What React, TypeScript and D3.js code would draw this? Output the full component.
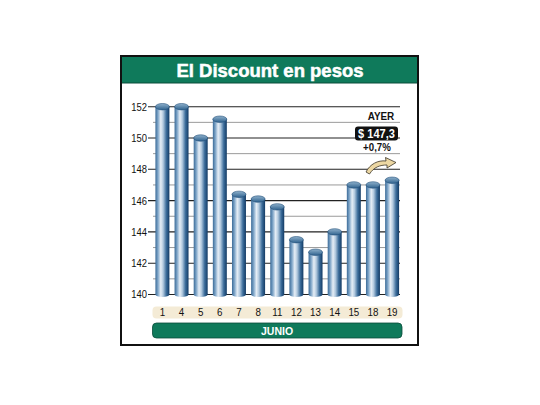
import React, { useEffect, useRef } from 'react';
import * as d3 from 'd3';

const days = ['1', '4', '5', '6', '7', '8', '11', '12', '13', '14', '15', '18', '19'];
const prices = [152.0, 152.0, 150.0, 151.2, 146.4, 146.1, 145.6, 143.5, 142.7, 144.0, 147.0, 147.0, 147.3];
const yTicks = [140, 142, 144, 146, 148, 150, 152];
const gridValues = d3.range(140, 153, 1);

const title = 'El Discount en pesos';
const monthLabel = 'JUNIO';
const lastLabel = 'AYER';
const lastValue = '$ 147,3';
const lastChange = '+0,7%';

const App: React.FC = () => {
  const svgRef = useRef<SVGSVGElement>(null);

  useEffect(() => {
    if (!svgRef.current) return;
    const svg = d3.select(svgRef.current);
    svg.selectAll('*').remove();

    const font = 'Liberation Sans, Arial, sans-serif';
    const green = '#0f7a5b';

    // squeezed text, the original uses a narrow face
    const narrow = (sel: any, sx: number) =>
      sel.attr('transform', function (this: SVGTextElement) {
        const px = +this.getAttribute('x')!;
        return `translate(${px * (1 - sx)},0) scale(${sx},1)`;
      });

    const x = d3.scaleBand<string>()
      .domain(days)
      .range([153.5, 401])
      .paddingInner(0.27)
      .paddingOuter(0.1);

    const y = d3.scaleLinear()
      .domain([140, 152])
      .range([294.5, 106.7]);

    // gradients
    const defs = svg.append('defs');
    const body = defs.append('linearGradient').attr('id', 'barBody')
      .attr('x1', '0%').attr('x2', '100%').attr('y1', '0%').attr('y2', '0%');
    [
      ['0%', '#3b6b98'],
      ['18%', '#7ea5c8'],
      ['38%', '#e6eef6'],
      ['55%', '#b3cadf'],
      ['78%', '#3c6d9b'],
      ['100%', '#123a64'],
    ].forEach(([o, c]) => body.append('stop').attr('offset', o).attr('stop-color', c));

    const cap = defs.append('linearGradient').attr('id', 'barCap')
      .attr('x1', '0%').attr('x2', '0%').attr('y1', '0%').attr('y2', '100%');
    [
      ['0%', '#8fb1cc'],
      ['100%', '#2f628e'],
    ].forEach(([o, c]) => cap.append('stop').attr('offset', o).attr('stop-color', c));

    // frame
    svg.append('rect')
      .attr('x', 121).attr('y', 56).attr('width', 297).attr('height', 289)
      .attr('fill', '#fff').attr('stroke', '#111').attr('stroke-width', 2);

    // title band
    svg.append('rect')
      .attr('x', 122).attr('y', 57).attr('width', 295).attr('height', 26)
      .attr('fill', green);
    svg.append('line')
      .attr('x1', 122).attr('x2', 417).attr('y1', 83).attr('y2', 83)
      .attr('stroke', '#0a4d3a').attr('stroke-width', 1);
    svg.append('text')
      .text(title)
      .attr('x', 270).attr('y', 77)
      .attr('text-anchor', 'middle')
      .attr('font-family', font)
      .attr('font-size', 18.5)
      .attr('font-weight', 'bold')
      .attr('stroke', '#fff')
      .attr('stroke-width', 0.5)
      .attr('fill', '#fff');

    // grid
    svg.append('g').selectAll('line')
      .data(gridValues)
      .join('line')
      .attr('x1', d => (d % 2 === 0 ? 148 : 153))
      .attr('x2', 400)
      .attr('y1', d => y(d))
      .attr('y2', d => y(d))
      .attr('stroke', d => (d % 2 === 0 ? '#222' : '#9a9a9a'))
      .attr('stroke-width', d => (d % 2 === 0 ? 1.1 : 1));

    // y labels
    narrow(svg.append('g').selectAll('text')
      .data(yTicks)
      .join('text')
      .text(d => d)
      .attr('x', 147)
      .attr('y', d => y(d) + 4)
      .attr('text-anchor', 'end')
      .attr('font-family', font)
      .attr('font-size', 11.5)
      .attr('fill', '#111'), 0.82);

    // bars
    const bw = x.bandwidth();
    const bars = svg.append('g').selectAll('g')
      .data(days.map((d, i) => ({ day: d, v: prices[i] })))
      .join('g')
      .attr('transform', d => `translate(${x(d.day)},0)`);

    bars.append('ellipse')
      .attr('cx', bw / 2).attr('cy', y(140))
      .attr('rx', bw / 2).attr('ry', 2.5)
      .attr('fill', 'url(#barBody)');
    bars.append('rect')
      .attr('x', 0).attr('width', bw)
      .attr('y', d => y(d.v))
      .attr('height', d => y(140) - y(d.v))
      .attr('fill', 'url(#barBody)');
    bars.append('ellipse')
      .attr('cx', bw / 2).attr('cy', d => y(d.v))
      .attr('rx', bw / 2).attr('ry', 3.2)
      .attr('fill', 'url(#barCap)')
      .attr('stroke', '#24507a')
      .attr('stroke-width', 0.6);

    // last value annotation
    narrow(svg.append('text')
      .text(lastLabel)
      .attr('x', 381).attr('y', 120)
      .attr('text-anchor', 'middle')
      .attr('font-family', font)
      .attr('font-size', 11)
      .attr('font-weight', 'bold')
      .attr('fill', '#111'), 0.9);
    svg.append('rect')
      .attr('x', 355).attr('y', 126.5).attr('width', 43).attr('height', 14)
      .attr('rx', 3)
      .attr('fill', '#111');
    narrow(svg.append('text')
      .text(lastValue)
      .attr('x', 376.5).attr('y', 138.5)
      .attr('text-anchor', 'middle')
      .attr('font-family', font)
      .attr('font-size', 13)
      .attr('font-weight', 'bold')
      .attr('fill', '#fff'), 0.85);
    narrow(svg.append('text')
      .text(lastChange)
      .attr('x', 377).attr('y', 151)
      .attr('text-anchor', 'middle')
      .attr('font-family', font)
      .attr('font-size', 11)
      .attr('font-weight', 'bold')
      .attr('fill', '#111'), 0.88);

    // up arrow
    svg.append('path')
      .attr('d', 'M366,172 C370,164 378,160 386,161 L385.5,157.5 L396,162.5 L387,168 L387,165 C380,165 374,167 369.5,174 Z')
      .attr('fill', '#ecd7a3')
      .attr('stroke', '#3a3327')
      .attr('stroke-width', 0.8)
      .attr('stroke-linejoin', 'round');

    // category band
    svg.append('rect')
      .attr('x', 152.5).attr('y', 306.5).attr('width', 250).attr('height', 12)
      .attr('rx', 4)
      .attr('fill', '#f4ebd6');
    narrow(svg.append('g').selectAll('text')
      .data(days)
      .join('text')
      .text(d => d)
      .attr('x', d => (x(d) as number) + bw / 2)
      .attr('y', 316.5)
      .attr('text-anchor', 'middle')
      .attr('font-family', font)
      .attr('font-size', 11.5)
      .attr('fill', '#111'), 0.85);

    // month band
    svg.append('rect')
      .attr('x', 152.5).attr('y', 323).attr('width', 249.5).attr('height', 15)
      .attr('rx', 4)
      .attr('fill', green)
      .attr('stroke', '#0a4d3a')
      .attr('stroke-width', 0.8);
    svg.append('text')
      .text(monthLabel)
      .attr('x', 277).attr('y', 334.5)
      .attr('text-anchor', 'middle')
      .attr('font-family', font)
      .attr('font-size', 10.5)
      .attr('font-weight', 'bold')
      .attr('fill', '#fff');
  }, []);

  return (
    <svg
      ref={svgRef}
      width={540}
      height={405}
      style={{ position: 'absolute', left: 0, top: 0, background: '#fff' }}
    />
  );
};

export default App;
